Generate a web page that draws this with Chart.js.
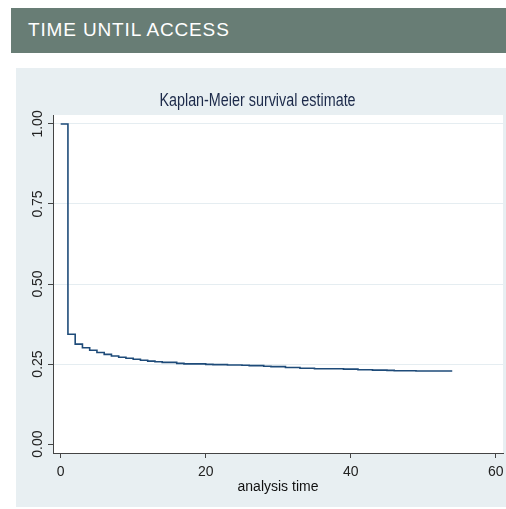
<!DOCTYPE html>
<html>
<head>
<meta charset="utf-8">
<script src="https://cdn.jsdelivr.net/npm/chart.js@4.4.1/dist/chart.umd.min.js"></script>
<style>
  html, body { margin: 0; padding: 0; background: #ffffff; width: 506px; height: 509px; overflow: hidden; }
  #hdr {
    position: absolute; left: 11px; top: 8px; width: 495px; height: 45px;
    background: #687d75; color: #ffffff;
    font: 19px 'Liberation Sans', Arial, sans-serif; letter-spacing: 0.85px;
    line-height: 44px; box-sizing: border-box; padding-left: 17px;
  }
  #box { position: absolute; left: 16px; top: 68px; width: 490px; height: 439px; background: #e8eff2; }
  #c { display: block; }
</style>
</head>
<body>
<div id="hdr">TIME UNTIL ACCESS</div>
<div id="box"><canvas id="c" width="490" height="439"></canvas></div>
<script>
// Kaplan-Meier estimate: event times (months) and survival probability after each step
const kmTime = [0, 1, 2, 3, 4, 5, 6, 7, 8, 9, 10, 11, 12, 13, 14, 16, 17, 20, 21, 23, 25, 26, 28, 29, 31, 33, 35, 39, 41, 43, 45, 46, 49, 54];
const kmSurv = [1.000, 0.343, 0.312, 0.301, 0.293, 0.286, 0.280, 0.275, 0.271, 0.268, 0.265, 0.262, 0.259, 0.257, 0.255,
                0.252, 0.2505, 0.249, 0.248, 0.247, 0.246, 0.245, 0.243, 0.242, 0.239, 0.237, 0.235, 0.234, 0.232,
                0.231, 0.230, 0.229, 0.228, 0.228];
const yTicks = [0, 0.25, 0.5, 0.75, 1];
const yTickLabels = ['0.00', '0.25', '0.50', '0.75', '1.00'];
const xTicks = [0, 20, 40, 60];

const chartTitle = 'Kaplan-Meier survival estimate';
const xTitle = 'analysis time';

const BASE_FONT = "'Liberation Sans', Arial, sans-serif";
const NARROW_FONT = "'Liberation Sans Narrow', 'Arial Narrow', 'Liberation Sans', Arial, sans-serif";

// Title and rotated y labels, in the Stata style
const stataText = {
  id: 'stataText',
  afterDraw(chart) {
    const ctx = chart.ctx;
    const y = chart.scales.y;
    ctx.save();
    // rotated y tick labels
    ctx.fillStyle = '#222222';
    ctx.font = '14px ' + BASE_FONT;
    ctx.textAlign = 'center';
    ctx.textBaseline = 'middle';
    yTicks.forEach((v, i) => {
      const py = y.getPixelForValue(v);
      ctx.save();
      ctx.translate(22.5, py);
      ctx.rotate(-Math.PI / 2);
      ctx.fillText(yTickLabels[i], 0, 0);
      ctx.restore();
    });
    // graph title, condensed
    ctx.fillStyle = '#1c2a4a';
    ctx.font = '17.5px ' + BASE_FONT;
    ctx.textAlign = 'center';
    ctx.textBaseline = 'alphabetic';
    ctx.save();
    ctx.translate(241.5, 37.5);
    ctx.scale(0.82, 1);
    ctx.fillText(chartTitle, 0, 0);
    ctx.restore();
    ctx.restore();
  }
};

new Chart(document.getElementById('c'), {
  type: 'line',
  data: {
    datasets: [{
      data: kmTime.map((t, i) => ({ x: t, y: kmSurv[i] })),
      stepped: true,
      borderColor: '#1e4b79',
      borderWidth: 1.6,
      pointRadius: 0,
      fill: false
    }]
  },
  options: {
    responsive: false,
    animation: false,
    devicePixelRatio: 1,
    layout: { padding: { top: 47, right: 3, left: 0, bottom: 0 } },
    plugins: { legend: { display: false }, tooltip: { enabled: false }, title: { display: false } },
    scales: {
      x: {
        type: 'linear',
        min: -1.06,
        max: 61,
        afterBuildTicks: s => { s.ticks = xTicks.map(v => ({ value: v })); },
        afterFit: s => { s.height = 54; s.paddingLeft = 0; s.paddingRight = 0; },
        grid: { drawOnChartArea: false, drawTicks: true, tickLength: 5, tickColor: '#444444', tickWidth: 1 },
        border: { color: '#444444', width: 1 },
        ticks: {
          color: '#222222',
          font: { family: NARROW_FONT, size: 14 },
          padding: 6,
          maxRotation: 0,
          autoSkip: false,
          callback: v => String(v)
        },
        title: {
          display: true,
          text: xTitle,
          color: '#111111',
          font: { family: NARROW_FONT, size: 14 },
          padding: { top: 11, bottom: 11 }
        }
      },
      y: {
        type: 'linear',
        min: -0.028,
        max: 1.028,
        afterBuildTicks: s => { s.ticks = yTicks.map(v => ({ value: v })); },
        afterFit: s => { s.width = 37; s.paddingTop = 0; s.paddingBottom = 0; },
        grid: {
          color: c => (c.tick && c.tick.value === 0) ? 'rgba(0,0,0,0)' : '#e5edf1',
          lineWidth: 1,
          drawTicks: true,
          tickLength: 5,
          tickColor: '#444444',
          tickWidth: 1
        },
        border: { color: '#444444', width: 1 },
        ticks: { display: false }
      }
    }
  },
  plugins: [
    {
      id: 'plotBg',
      beforeDraw(chart) {
        const a = chart.chartArea;
        chart.ctx.save();
        chart.ctx.fillStyle = '#ffffff';
        chart.ctx.fillRect(a.left, a.top, a.right - a.left, a.bottom - a.top);
        chart.ctx.restore();
      }
    },
    stataText
  ]
});
</script>
</body>
</html>
